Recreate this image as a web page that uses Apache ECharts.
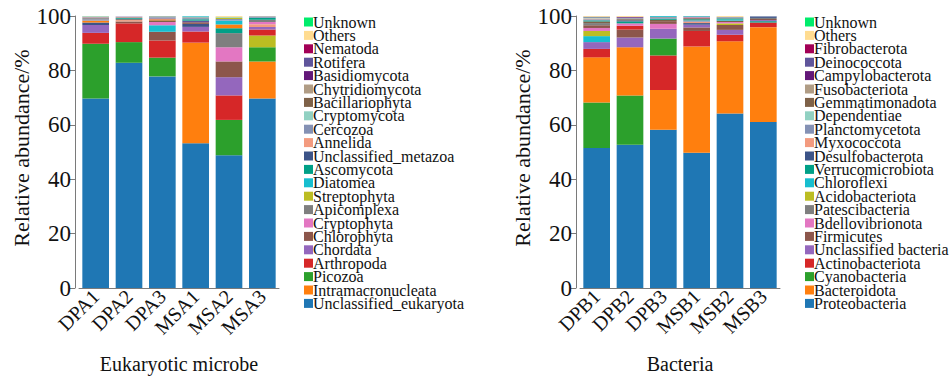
<!DOCTYPE html>
<html>
<head>
<meta charset="utf-8">
<script src="https://cdn.jsdelivr.net/npm/echarts@6/dist/echarts.min.js"></script>
<style>
  html, body { margin: 0; padding: 0; background: #fff; }
  #chart { width: 951px; height: 379px; font-family: 'Liberation Serif', serif; }
</style>
</head>
<body>
<div id="chart"></div>
<script>
// ---- Eukaryotic microbe community (relative abundance, %) ----
const eukSamples = ['DPA1', 'DPA2', 'DPA3', 'MSA1', 'MSA2', 'MSA3'];
const eukTaxa = [
  'Unclassified_eukaryota', 'Intramacronucleata', 'Picozoa', 'Arthropoda', 'Chordata',
  'Chlorophyta', 'Cryptophyta', 'Apicomplexa', 'Streptophyta', 'Diatomea', 'Ascomycota',
  'Unclassified_metazoa', 'Annelida', 'Cercozoa', 'Cryptomycota', 'Bacillariophyta',
  'Chytridiomycota', 'Basidiomycota', 'Rotifera', 'Nematoda', 'Others', 'Unknown'
];
const eukValues = [
  [69.7, 82.8, 77.8, 53.2, 48.8, 69.7],  // Unclassified_eukaryota
  [0.7, 0.1, 0.4, 37.0, 1.4, 13.6],      // Intramacronucleata
  [20.1, 7.6, 6.9, 0, 13.0, 5.2],        // Picozoa
  [4.0, 6.9, 6.3, 4.1, 9.0, 2.2],        // Arthropoda
  [2.9, 0.1, 0.3, 1.7, 6.7, 1.0],        // Chordata
  [0.1, 0.7, 3.2, 0.6, 5.8, 0],          // Chlorophyta
  [0.1, 0.1, 1.2, 0, 5.2, 0.8],          // Cryptophyta
  [0.4, 0.4, 0.3, 0.3, 5.2, 0.8],        // Apicomplexa
  [0, 0, 0, 0, 0.5, 4.3],                // Streptophyta
  [0.1, 0, 2.4, 0.2, 1.4, 0],            // Diatomea
  [0.1, 0.3, 0.1, 0.5, 1.8, 0.8],        // Ascomycota
  [0.9, 0, 0.1, 1.1, 0, 0],              // Unclassified_metazoa
  [0, 0.5, 0, 0, 0, 1.0],                // Annelida
  [0.5, 0.3, 0.3, 0.4, 0.6, 0.5],        // Cercozoa
  [0.1, 0.1, 0, 0.3, 0.3, 0],            // Cryptomycota
  [0, 0, 0.6, 0, 0, 0],                  // Bacillariophyta
  [0.2, 0, 0, 0, 0, 0],                  // Chytridiomycota
  [0, 0, 0, 0, 0, 0],                    // Basidiomycota
  [0, 0, 0, 0.6, 0, 0],                  // Rotifera
  [0, 0, 0, 0, 0, 0],                    // Nematoda
  [0.1, 0, 0.1, 0, 0.3, 0.1],            // Others
  [0, 0, 0, 0, 0, 0]                     // Unknown
];

// ---- Bacterial community (relative abundance, %) ----
const bacSamples = ['DPB1', 'DPB2', 'DPB3', 'MSB1', 'MSB2', 'MSB3'];
const bacTaxa = [
  'Proteobacteria', 'Bacteroidota', 'Cyanobacteria', 'Actinobacteriota', 'Unclassified bacteria',
  'Firmicutes', 'Bdellovibrionota', 'Patescibacteria', 'Acidobacteriota', 'Chloroflexi',
  'Verrucomicrobiota', 'Desulfobacterota', 'Myxococcota', 'Planctomycetota', 'Dependentiae',
  'Gemmatimonadota', 'Fusobacteriota', 'Campylobacterota', 'Deinococcota', 'Fibrobacterota',
  'Others', 'Unknown'
];
const bacValues = [
  [51.5, 52.7, 58.2, 49.7, 64.2, 61.0],  // Proteobacteria
  [16.6, 17.7, 14.6, 39.1, 26.5, 34.9],  // Bacteroidota
  [16.7, 18.1, 6.2, 0, 0, 0],            // Cyanobacteria
  [3.1, 1.4, 12.7, 5.7, 2.4, 1.7],       // Actinobacteriota
  [2.5, 3.6, 3.6, 1.0, 1.8, 0.4],        // Unclassified bacteria
  [1.0, 2.9, 1.0, 1.3, 1.8, 0.4],        // Firmicutes
  [1.1, 0.9, 1.8, 0.3, 0.5, 0],          // Bdellovibrionota
  [0.8, 0.3, 0.3, 0.3, 0.3, 0.4],        // Patescibacteria
  [1.9, 0, 0, 0, 0.6, 0],                // Acidobacteriota
  [2.2, 0, 0.3, 0.2, 0.4, 0],            // Chloroflexi
  [0.4, 0.7, 0.4, 0.4, 0.4, 0.5],        // Verrucomicrobiota
  [0.2, 0.4, 0, 0.6, 0, 0.4],            // Desulfobacterota
  [0.3, 0, 0, 0.5, 0, 0],                // Myxococcota
  [0.4, 0.3, 0.4, 0.5, 0.3, 0.3],        // Planctomycetota
  [0.3, 0, 0, 0, 0, 0],                  // Dependentiae
  [0.6, 0.4, 0.5, 0.4, 0.5, 0],          // Gemmatimonadota
  [0.2, 0, 0, 0, 0, 0],                  // Fusobacteriota
  [0, 0.3, 0, 0, 0, 0],                  // Campylobacterota
  [0, 0, 0, 0, 0, 0],                    // Deinococcota
  [0, 0, 0, 0, 0, 0],                    // Fibrobacterota
  [0.2, 0.3, 0, 0, 0.3, 0],              // Others
  [0, 0, 0, 0, 0, 0]                     // Unknown
];

// Shared palette, bottom of the legend upward
const palette = [
  '#1f77b4', '#ff7f0e', '#2ca02c', '#d62728', '#9467bd', '#8c564b', '#e377c2',
  '#7f7f7f', '#bcbd22', '#17becf', '#00a087', '#3c5488', '#f39b7f', '#8491b4',
  '#91d1c2', '#7e6148', '#b09c85', '#631879', '#5f559b', '#a20056', '#ffdc91', '#00ec6c'
];

const yTicks = [0, 20, 40, 60, 80, 100];
const FONT = "'Liberation Serif', 'Times New Roman', Times, serif";
const AXIS_COLOR = '#7a7a7a';

// Each bar is stacked largest-first, so series are built per rank
// and every segment carries the colour of its own taxon.
function rankedSeries(g, taxa, values) {
  const nS = values[0].length;
  const out = [];
  const orders = [];
  for (let j = 0; j < nS; j++) {
    const idx = taxa.map((_, i) => i);
    idx.sort((a, b) => values[b][j] - values[a][j] || a - b);
    orders.push(idx);
  }
  for (let r = 0; r < taxa.length; r++) {
    out.push({
      type: 'bar',
      xAxisIndex: g, yAxisIndex: g,
      stack: 'stack' + g,
      barWidth: '80%',
      silent: true,
      data: orders.map((idx, j) => ({
        value: values[idx[r]][j],
        name: taxa[idx[r]],
        itemStyle: { color: palette[idx[r]] }
      }))
    });
  }
  // empty entries that only feed the legend swatches
  taxa.forEach((t, i) => {
    out.push({
      type: 'bar', name: t, xAxisIndex: g, yAxisIndex: g,
      stack: 'stack' + g, data: [],
      itemStyle: { color: palette[i] }
    });
  });
  return out;
}

function xAxisDef(g, samples, title) {
  return {
    type: 'category', gridIndex: g, data: samples,
    axisLine: { lineStyle: { color: AXIS_COLOR, width: 1 } },
    axisTick: { alignWithLabel: true, length: 5, lineStyle: { color: AXIS_COLOR } },
    axisLabel: { interval: 0, rotate: 45, margin: 5, fontFamily: FONT, fontSize: 20, color: '#111' },
    name: title, nameLocation: 'middle', nameGap: 66,
    nameTextStyle: { fontFamily: FONT, fontSize: 20, color: '#111' }
  };
}

function yAxisDef(g) {
  return {
    type: 'value', gridIndex: g, min: 0, max: 100, interval: 20, offset: 4,
    splitLine: { show: false },
    axisLine: { show: true, lineStyle: { color: AXIS_COLOR, width: 1 } },
    axisTick: { show: true, length: 5, lineStyle: { color: AXIS_COLOR } },
    axisLabel: { margin: 4, fontFamily: FONT, fontSize: 23, color: '#111',
                 formatter: v => yTicks.includes(v) ? String(v) : '' },
    name: 'Relative abundance/%', nameLocation: 'middle', nameGap: 42,
    nameTextStyle: { fontFamily: FONT, fontSize: 22, color: '#111', padding: [0, 0, 0, 8] }
  };
}

function legendDef(left, top, taxa, fontSize, gap) {
  return {
    orient: 'vertical', left: left, top: top,
    data: taxa.slice().reverse(),
    icon: 'rect', itemWidth: 9, itemHeight: 9, itemGap: gap,
    selectedMode: false,
    textStyle: { fontFamily: FONT, fontSize: fontSize, color: '#111', padding: [0, 0, 0, -5] }
  };
}

const chart = echarts.init(document.getElementById('chart'), null, { renderer: 'svg' });
chart.setOption({
  backgroundColor: '#ffffff',
  animation: false,
  textStyle: { fontFamily: FONT },
  grid: [
    { left: 79, top: 16, width: 200, height: 275 },
    { left: 580, top: 16, width: 200, height: 275 }
  ],
  xAxis: [xAxisDef(0, eukSamples, 'Eukaryotic microbe'), xAxisDef(1, bacSamples, 'Bacteria')],
  yAxis: [yAxisDef(0), yAxisDef(1)],
  legend: [
    legendDef(299, 9, eukTaxa, 16, -2.6),
    legendDef(800, 9, bacTaxa, 16, -2.6)
  ],
  series: rankedSeries(0, eukTaxa, eukValues).concat(rankedSeries(1, bacTaxa, bacValues))
});
</script>
</body>
</html>
